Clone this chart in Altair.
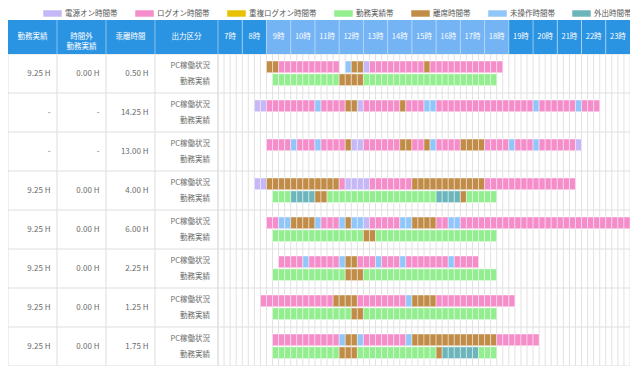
import altair as alt
import pandas as pd

# ---------------- data ----------------
CATEGORIES = ["電源オン時間帯", "ログオン時間帯", "重複ログオン時間帯", "勤務実績帯",
              "離席時間帯", "未操作時間帯", "外出時間帯"]
COLORS = ["#c6b8f6", "#f48dc9", "#e8c100", "#93ee90", "#c18c47", "#90c6fa", "#6cb6bb"]
CODE = {"P": "電源オン時間帯", "L": "ログオン時間帯", "D": "重複ログオン時間帯", "W": "勤務実績帯",
        "A": "離席時間帯", "I": "未操作時間帯", "O": "外出時間帯"}

HOURS = list(range(7, 24))
HOUR_LABELS = [f"{h}時" for h in HOURS]
LIGHT_HOURS = list(range(9, 19))

HEADER_LABELS = ["勤務実績", "時間外\n勤務実績", "乖離時間", "出力区分"]
ROW_KINDS = ["PC稼働状況", "勤務実績"]

ACTUAL = ["9.25 H", "-", "-", "9.25 H", "9.25 H", "9.25 H", "9.25 H", "9.25 H"]
OVERTIME = ["0.00 H", "-", "-", "0.00 H", "0.00 H", "0.00 H", "0.00 H", "0.00 H"]
DEVIATION = ["0.50 H", "14.25 H", "13.00 H", "4.00 H", "6.00 H", "2.25 H", "1.25 H", "1.75 H"]

PC_STATUS = [
    [("09:00", "09:30", "A"), ("09:30", "12:00", "L"), ("12:15", "12:30", "I"), ("12:30", "13:00", "A"),
     ("13:00", "13:15", "P"), ("13:15", "15:30", "L"), ("15:30", "15:45", "A"), ("15:45", "18:45", "L")],
    [("08:30", "09:00", "P"), ("09:00", "11:00", "L"), ("11:00", "11:15", "I"), ("11:15", "12:15", "L"),
     ("12:15", "12:45", "A"), ("12:45", "13:00", "P"), ("13:00", "14:30", "L"), ("14:30", "14:45", "A"),
     ("14:45", "15:30", "L"), ("15:30", "16:00", "I"), ("16:00", "20:00", "L"), ("20:00", "20:15", "I"),
     ("20:15", "21:45", "L"), ("21:45", "22:00", "I"), ("22:00", "22:45", "L")],
    [("09:00", "10:00", "L"), ("10:00", "10:15", "I"), ("10:15", "11:00", "L"), ("11:00", "11:15", "I"),
     ("11:15", "12:15", "L"), ("12:15", "12:30", "A"), ("12:30", "13:00", "P"), ("13:00", "14:30", "L"),
     ("14:30", "15:00", "A"), ("15:00", "15:30", "L"), ("15:30", "15:45", "A"), ("15:45", "16:00", "I"),
     ("16:00", "17:00", "L"), ("17:00", "18:00", "A"), ("18:00", "19:00", "L"), ("19:00", "19:15", "I"),
     ("19:15", "20:00", "L"), ("20:00", "20:15", "I"), ("20:15", "21:45", "L"), ("21:45", "22:00", "P")],
    [("08:30", "09:00", "P"), ("09:00", "12:00", "A"), ("12:00", "12:15", "L"), ("12:15", "13:15", "P"),
     ("13:15", "15:00", "L"), ("15:00", "18:00", "A"), ("18:00", "21:45", "L")],
    [("09:00", "09:30", "L"), ("09:30", "10:00", "I"), ("10:00", "11:00", "A"), ("11:00", "11:15", "I"),
     ("11:15", "12:00", "L"), ("12:00", "12:15", "I"), ("12:15", "12:30", "A"), ("12:30", "13:00", "I"),
     ("13:00", "13:15", "P"), ("13:15", "14:30", "L"), ("14:30", "15:00", "I"), ("15:00", "16:00", "A"),
     ("16:00", "16:30", "L"), ("16:30", "17:00", "I"), ("17:00", "24:00", "L")],
    [("09:30", "10:30", "L"), ("10:30", "10:45", "I"), ("10:45", "12:00", "L"), ("12:00", "12:15", "I"),
     ("12:15", "12:45", "A"), ("12:45", "13:30", "L"), ("13:30", "13:45", "I"), ("13:45", "14:30", "L"),
     ("14:30", "14:45", "I"), ("14:45", "16:30", "L"), ("16:30", "16:45", "I"), ("16:45", "17:45", "L")],
    [("08:45", "11:45", "L"), ("11:45", "12:45", "A"), ("12:45", "14:45", "L"), ("14:45", "15:00", "I"),
     ("15:00", "16:00", "A"), ("16:00", "19:15", "L")],
    [("09:15", "12:00", "L"), ("12:00", "12:15", "I"), ("12:15", "12:45", "A"), ("12:45", "13:00", "I"),
     ("13:00", "14:45", "L"), ("14:45", "15:00", "I"), ("15:00", "18:30", "A"), ("18:30", "20:15", "L")],
]

ATTENDANCE = [
    [("09:15", "12:00", "W"), ("12:00", "13:00", "A"), ("13:00", "18:30", "W")],
    [],
    [],
    [("09:15", "10:00", "W"), ("10:00", "11:00", "O"), ("11:00", "11:30", "A"), ("11:30", "16:00", "W"),
     ("16:00", "17:00", "O"), ("17:00", "17:15", "A"), ("17:15", "18:30", "W")],
    [("09:15", "13:00", "W"), ("13:00", "13:30", "A"), ("13:30", "18:30", "W")],
    [("09:15", "12:15", "W"), ("12:15", "13:00", "A"), ("13:00", "18:30", "W")],
    [("09:15", "12:30", "W"), ("12:30", "13:00", "A"), ("13:00", "18:30", "W")],
    [("09:15", "12:00", "W"), ("12:00", "12:45", "A"), ("12:45", "16:00", "W"), ("16:00", "16:15", "A"),
     ("16:15", "17:45", "O"), ("17:45", "18:30", "W")],
]

# ---------------- layout ----------------
W, H = 622, 358
HOUR_PX = 412 / 17
X0 = 7 - 210 / HOUR_PX
COL_PX = [0, 49, 98, 147, 210]
COL_EDGES = [X0 + p / HOUR_PX for p in COL_PX]
ROW_PX = 39
Y_TOP = -46 / ROW_PX
HEAD_TOP = -34 / ROW_PX
N = len(DEVIATION)
FONT = "Noto Sans CJK JP"
FS = 7.5
TXT = "#6b6b6b"

XS = alt.Scale(domain=[X0, 24], nice=False, zero=False)
YS = alt.Scale(domain=[Y_TOP, N], nice=False, zero=False, reverse=True)


def hrs(t):
    h, m = t.split(":")
    return int(h) + int(m) / 60


def X(f):
    return alt.X(f, type="quantitative", scale=XS, axis=None)


def Y(f):
    return alt.Y(f, type="quantitative", scale=YS, axis=None)


# cells
cells = []
for r in range(N):
    for segs, y0, y1 in ((PC_STATUS[r], 0.18, 0.48), (ATTENDANCE[r], 0.51, 0.81)):
        for s, e, c in segs:
            a, b = hrs(s), hrs(e)
            n = round((b - a) * 4)
            for i in range(n):
                cells.append(dict(x=a + i * 0.25, x2=a + (i + 1) * 0.25, y=r + y0, y2=r + y1, cat=CODE[c]))
cells = pd.DataFrame(cells)

# header
head_cols = pd.DataFrame([dict(x=COL_EDGES[i], x2=COL_EDGES[i + 1]) for i in range(4)] +
                         [dict(x=h, x2=h + 1) for h in HOURS])
head_cols["y"] = HEAD_TOP
head_cols["y2"] = 0.0
light = pd.DataFrame(dict(x=[min(LIGHT_HOURS)], x2=[max(LIGHT_HOURS) + 1], y=[HEAD_TOP], y2=[0.0]))

header_base = alt.Chart(head_cols).mark_rect(color="#2a93e2").encode(
    x=X("x"), x2="x2", y=Y("y"), y2="y2")
header_light = alt.Chart(light).mark_rect(color="#74b4f5").encode(
    x=X("x"), x2="x2", y=Y("y"), y2="y2")
header_sep = alt.Chart(head_cols.iloc[1:]).mark_rule(color="#ffffff", opacity=0.45, strokeWidth=1).encode(
    x=X("x"), y=Y("y"), y2="y2")

head_text = pd.DataFrame(
    [dict(x=(COL_EDGES[i] + COL_EDGES[i + 1]) / 2, t=HEADER_LABELS[i]) for i in range(4)] +
    [dict(x=h + 0.5, t=l) for h, l in zip(HOURS, HOUR_LABELS)])
head_text["y"] = HEAD_TOP / 2
header_txt = alt.Chart(head_text).mark_text(
    color="white", font=FONT, fontSize=FS, baseline="middle", align="center", lineBreak="\n", lineHeight=10
).encode(x=X("x"), y=Y("y"), text="t:N")

# grid
quarters = [7 + i * 0.25 for i in range(17 * 4 + 1)]
vgrid = pd.DataFrame(dict(x=quarters, y=0.0, y2=float(N)))
grid_q = alt.Chart(vgrid).mark_rule(color="#e2e2e2", strokeWidth=1).encode(x=X("x"), y=Y("y"), y2="y2")
colgrid = pd.DataFrame(dict(x=COL_EDGES, y=0.0, y2=float(N)))
grid_c = alt.Chart(colgrid).mark_rule(color="#dddddd", strokeWidth=1).encode(x=X("x"), y=Y("y"), y2="y2")
hgrid = pd.DataFrame(dict(y=list(range(N + 1)), x=X0, x2=24.0))
grid_h = alt.Chart(hgrid).mark_rule(color="#e0e0e0", strokeWidth=1.2).encode(y=Y("y"), x=X("x"), x2="x2")

# bars
bars = alt.Chart(cells).mark_rect(stroke="#ffffff", strokeWidth=0.8, strokeOpacity=0.55).encode(
    x=X("x"), x2="x2", y=Y("y"), y2="y2",
    color=alt.Color("cat:N", scale=alt.Scale(domain=CATEGORIES, range=COLORS),
                    legend=alt.Legend(orient="none", legendX=35, legendY=-4, direction="horizontal",
                                      title=None, symbolType="M-1,-0.35H1V0.35H-1Z", symbolSize=342,
                                      symbolStrokeWidth=0, symbolOpacity=1, labelFont=FONT,
                                      labelFontSize=7.5, labelColor="#555555", labelOffset=3,
                                      columnPadding=17, gridAlign="none", padding=0)))

# body texts
vals = []
for r in range(N):
    for i, arr in enumerate((ACTUAL, OVERTIME, DEVIATION)):
        vals.append(dict(x=COL_EDGES[i + 1] - 6.5 / HOUR_PX, y=r + 0.51, t=arr[r]))
vals = pd.DataFrame(vals)
val_txt = alt.Chart(vals).mark_text(font=FONT, fontSize=FS + 0.5, color=TXT, align="right",
                                    baseline="middle").encode(x=X("x"), y=Y("y"), text="t:N")
kinds = []
for r in range(N):
    for k, off in zip(ROW_KINDS, (0.30, 0.72)):
        kinds.append(dict(x=COL_EDGES[4] - 8 / HOUR_PX, y=r + off, t=k))
kinds = pd.DataFrame(kinds)
kind_txt = alt.Chart(kinds).mark_text(font=FONT, fontSize=FS, color=TXT, align="right",
                                      baseline="middle").encode(x=X("x"), y=Y("y"), text="t:N")

chart = alt.layer(grid_q, grid_c, grid_h, header_base, header_light, header_sep, header_txt,
                  bars, val_txt, kind_txt).properties(
    width=W, height=H, padding=0, autosize=alt.AutoSizeParams(type="none")
).configure_view(stroke=None)

chart.save("out.html", embed_options={"renderer": "svg", "actions": False})
